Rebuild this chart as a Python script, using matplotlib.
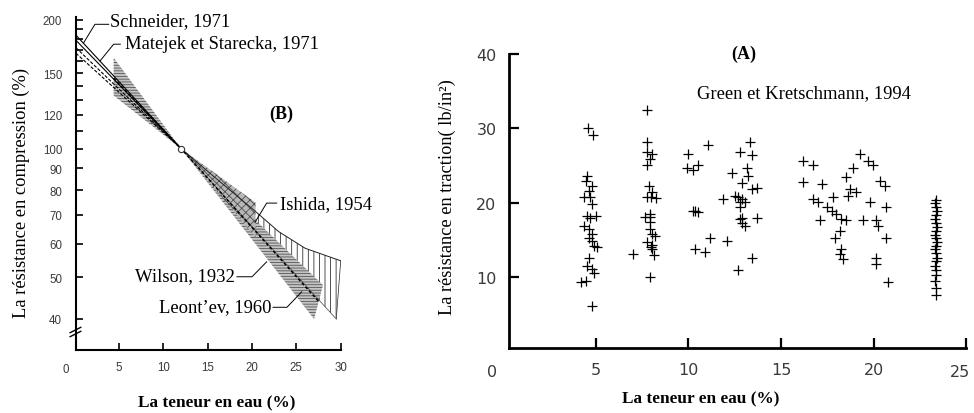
import numpy as np
import matplotlib
matplotlib.use("Agg")
import matplotlib.pyplot as plt
from matplotlib.ticker import FixedLocator, NullFormatter

plt.rcParams["hatch.linewidth"] = 0.6

# ---- panel B (compression, log scale) ----
pivot_x, pivot_y = 12, 100
schneider_x = [0.15, 12]
schneider_hi = [184, 100]
schneider_lo = [179, 100]
matejek_x = [0.15, 12]
matejek_hi = [172, 100]
matejek_lo = [167, 100]
band_left_x = [4.4, 12]
band_left_top = [163, 100]
band_left_bot = [133, 100]
wilson_x = [12, 20.4]
wilson_top = [100, 74.8]
wilson_bot = [100, 62]
leontev_x = [12, 28, 27]
leontev_y = [100, 48, 40]
ishida_x = [12, 16, 20.5, 23, 26, 30]
ishida_top = [100, 85, 71, 64, 58.5, 54.7]
ishida_bot_x = [29.5, 12]
ishida_bot = [40, 100]

b_yticks = [40, 50, 60, 70, 80, 90, 100, 120, 150, 200]
b_yminor = [110, 130, 140, 160, 170, 180, 190]
b_xticks = [5, 10, 15, 20, 25, 30]

# ---- panel A (traction, Green et Kretschmann 1994) ----
green_x = [
    # ~4.5 %
    4.59, 4.86, 4.50, 4.45, 4.80, 4.60, 4.35, 4.70, 4.80, 4.50, 4.70, 5.00,
    4.35, 4.60, 4.80, 4.60, 4.80, 4.90, 5.05, 4.60, 4.50, 4.80, 4.90, 4.45,
    4.20, 4.80,
    # ~8 %
    7.74, 7.74, 7.74, 8.05, 7.92, 7.74, 7.85, 8.05, 7.74, 8.00, 8.25, 7.92,
    7.65, 7.92, 7.92, 7.92, 8.05, 8.20, 7.74, 8.05, 7.95, 8.05, 8.15, 7.02,
    7.92,
    # ~10-12 %
    9.99, 11.07, 9.90, 10.26, 10.53, 10.26, 10.35, 10.53, 11.16, 12.06,
    10.35, 10.89,
    # ~13 %
    13.32, 12.78, 13.41, 12.33, 13.14, 13.23, 12.87, 13.41, 13.68, 12.51,
    12.69, 12.87, 11.88, 12.78, 13.05, 12.78, 12.78, 12.87, 13.68, 13.05,
    12.87, 13.41, 12.69,
    # ~16-18 %
    16.20, 16.74, 16.20, 17.20, 16.74, 17.00, 17.82, 17.46, 17.73, 17.10,
    18.00, 18.27, 18.54, 18.20, 17.90, 18.27, 18.20, 18.36,
    # ~19-20 %
    18.54, 18.90, 19.26, 19.71, 19.98, 18.72, 19.08, 18.63, 20.34, 20.60,
    19.80, 20.70, 19.44, 20.16, 20.25, 20.70, 20.16, 20.16, 20.78,
    # ~23 %
    23.40, 23.35, 23.40, 23.45, 23.40, 23.35, 23.40, 23.45, 23.40, 23.35,
    23.40, 23.45, 23.40, 23.35, 23.40, 23.45, 23.40, 23.35, 23.40, 23.40,
    23.35, 23.40, 23.40,
]
green_y = [
    30.0, 29.1, 23.6, 22.95, 22.3, 21.6, 20.7, 20.7, 19.8, 18.25, 18.0, 18.25,
    16.9, 16.45, 15.8, 15.3, 14.9, 14.2, 14.0, 12.6, 11.5, 11.1, 10.6, 9.5,
    9.3, 6.05,
    32.5, 28.1, 26.8, 26.5, 25.9, 25.0, 22.3, 21.4, 20.7, 20.8, 20.6, 18.5,
    18.1, 18.1, 17.35, 16.45, 15.8, 15.5, 14.7, 14.3, 14.0, 13.8, 12.9, 13.1,
    10.0,
    26.5, 27.75, 24.6, 24.4, 25.0, 18.9, 18.9, 18.7, 15.3, 14.9, 13.8, 13.4,
    28.1, 26.85, 26.4, 24.0, 24.6, 23.6, 22.6, 21.9, 22.0, 20.95, 20.7, 20.5,
    20.5, 20.05, 20.05, 19.4, 17.8, 17.2, 17.9, 16.9, 18.0, 12.5, 10.9,
    25.65, 25.0, 22.8, 22.5, 20.5, 20.05, 20.7, 19.4, 18.9, 17.6, 18.5, 17.8,
    17.7, 16.25, 15.2, 13.8, 13.1, 12.45,
    23.4, 24.6, 26.5, 25.65, 25.0, 21.8, 21.4, 20.95, 22.95, 22.3, 20.05,
    19.4, 17.7, 17.7, 16.9, 15.2, 12.5, 11.8, 9.3,
    20.4, 19.9, 19.4, 18.9, 18.3, 17.8, 17.2, 16.7, 16.2, 15.7, 15.2, 14.7,
    14.2, 13.7, 13.2, 12.6, 12.1, 11.5, 10.9, 10.2, 9.4, 8.5, 7.6,
]
a_xticks = [5, 10, 15, 20, 25]
a_yticks = [10, 20, 30, 40]

serif = "Liberation Serif"
sans_b = "Liberation Sans"
sans_a = "DejaVu Sans"
tick_col = "#3a3a3a"
note_size = 13.4

fig = plt.figure(figsize=(9.74, 4.14), dpi=100)

# ================= panel B =================
axb = fig.add_axes([0.0780, 0.1522, 0.2718, 0.8043])
axb.set_yscale("log")
axb.set_xlim(0.15, 30)
axb.set_ylim(33.86, 202.9)

# bands
axb.fill(ishida_x + ishida_bot_x, ishida_top + ishida_bot,
         facecolor="none", edgecolor="#333333", hatch="|||", linewidth=0)
axb.plot(ishida_x, ishida_top, color="#222222", lw=0.7)
axb.plot([ishida_x[-1], ishida_bot_x[0]], [ishida_top[-1], ishida_bot[0]],
         color="#222222", lw=0.5)
axb.plot(ishida_bot_x, ishida_bot, color="#444444", lw=0.5)
axb.fill(band_left_x + band_left_x[::-1], band_left_top + band_left_bot[::-1],
         facecolor="#c4c4c4", edgecolor="#555555", hatch="------", linewidth=0)
axb.fill(leontev_x, leontev_y, facecolor="#c4c4c4", edgecolor="#555555",
         hatch="------", linewidth=0)
axb.fill(wilson_x + wilson_x[::-1], wilson_top + wilson_bot[::-1],
         facecolor="#b8b8b8", edgecolor="#505050", hatch="xxxx", linewidth=0)

# lines from the top left
axb.plot(schneider_x, schneider_hi, color="black", lw=0.8)
axb.plot(schneider_x, schneider_lo, color="black", lw=0.8)
axb.plot(matejek_x, matejek_hi, color="black", lw=0.8, ls=(0, (3, 1.5)))
axb.plot(matejek_x, matejek_lo, color="black", lw=0.8, ls=(0, (3, 1.5)))
axb.plot([band_left_x[0], pivot_x, 27.5], [146, pivot_y, 44], color="black",
         lw=1.1, ls=(0, (2, 1.5)))
axb.plot([pivot_x], [pivot_y], marker="o", ms=4.5, mfc="white", mec="#333333",
         mew=0.8, zorder=5)

# axes style
for s in ["top", "right"]:
    axb.spines[s].set_visible(False)
for s in ["left", "bottom"]:
    axb.spines[s].set_linewidth(1.5)
axb.set_yticks(b_yticks)
axb.set_yticklabels([str(v) for v in b_yticks])
axb.yaxis.set_minor_locator(FixedLocator(b_yminor))
axb.yaxis.set_minor_formatter(NullFormatter())
axb.set_xticks(b_xticks)
axb.tick_params(axis="both", which="both", direction="in", width=1.2,
                colors="black", labelcolor=tick_col, labelsize=8.3)
axb.tick_params(axis="y", which="both", length=5, pad=10)
axb.tick_params(axis="x", length=5, pad=8)
for lab in axb.get_xticklabels() + axb.get_yticklabels():
    lab.set_family(sans_b)
axb.annotate("0", xy=(-1.0, 0), xycoords=("data", "axes fraction"),
             xytext=(0, -9.5), textcoords="offset points", ha="center",
             va="top", fontsize=8.3, family=sans_b, color=tick_col,
             annotation_clip=False)

# axis break
for dy in (0.0, 0.012):
    axb.plot([-0.022, 0.018], [0.040 + dy, 0.056 + dy], transform=axb.transAxes,
             color="black", lw=1.0, clip_on=False)

axb.set_ylabel("La résistance en compression (%)", family=serif, fontsize=13.3,
               va="center")
axb.yaxis.set_label_coords(-0.205, 0.474)
axb.set_xlabel("La teneur en eau (%)", family=serif, fontsize=12.4,
               fontweight="bold", va="center")
axb.xaxis.set_label_coords(0.532, -0.156)

# annotations
axb.text(4.0, 198.6, "Schneider, 1971", family=serif, fontsize=note_size,
         ha="left", va="center")
axb.plot([3.84, 2.29, 1.02], [195.1, 195.1, 176.7], color="black", lw=0.7,
         clip_on=False)
axb.text(5.7, 175.5, "Matejek et Starecka, 1971", family=serif,
         fontsize=note_size, ha="left", va="center")
axb.plot([5.15, 4.40, 2.86], [175.3, 175.3, 160.2], color="black", lw=0.7)
axb.text(23.3, 121, "(B)", family=serif, fontsize=13, fontweight="bold",
         ha="center", va="center")
axb.text(23.15, 74.2, "Ishida, 1954", family=serif, fontsize=note_size,
         ha="left", va="center")
axb.plot([22.78, 21.65, 20.34], [74.6, 74.6, 67.3], color="black", lw=0.7)
axb.text(18.1, 50.4, "Wilson, 1932", family=serif, fontsize=note_size,
         ha="right", va="center")
axb.plot([18.3, 20.0, 21.65], [50.2, 50.2, 54.4], color="black", lw=0.7)
axb.text(22.25, 42.7, "Leont\u2019ev, 1960", family=serif, fontsize=note_size,
         ha="right", va="center")
axb.plot([22.37, 23.94, 25.6], [42.6, 42.6, 46.3], color="black", lw=0.7)

# ================= panel A =================
axa = fig.add_axes([0.5226, 0.1570, 0.4692, 0.7101])
axa.scatter(green_x, green_y, marker="+", s=60, color="black", linewidths=0.9)
axa.set_xlim(0.3, 25.0)
axa.set_ylim(0.44, 40)
for s in ["top", "right"]:
    axa.spines[s].set_visible(False)
for s in ["left", "bottom"]:
    axa.spines[s].set_linewidth(2.0)
axa.set_xticks(a_xticks)
# last label drawn by hand a touch to the left so it stays inside the image
axa.set_xticklabels([str(v) for v in a_xticks[:-1]] + [""])
axa.set_yticks(a_yticks)
axa.tick_params(axis="both", direction="in", length=7, width=1.6,
                labelcolor=tick_col, labelsize=11.5)
axa.tick_params(axis="y", pad=9)
axa.tick_params(axis="x", pad=10)
for lab in axa.get_xticklabels() + axa.get_yticklabels():
    lab.set_family(sans_a)
axa.annotate("0", xy=(-0.64, 0), xycoords=("data", "axes fraction"),
             xytext=(0, -11.5), textcoords="offset points", ha="center",
             va="top", fontsize=11.5, family=sans_a, color=tick_col,
             annotation_clip=False)
axa.annotate(str(a_xticks[-1]), xy=(a_xticks[-1], 0),
             xycoords=("data", "axes fraction"), xytext=(-4, -11.5),
             textcoords="offset points", ha="center", va="top", fontsize=11.5,
             family=sans_a, color=tick_col, annotation_clip=False)

axa.set_ylabel("La résistance en traction( lb/in\u00b2)", family=serif,
               fontsize=13.2, va="center")
axa.yaxis.set_label_coords(-0.136, 0.517)
axa.set_xlabel("La teneur en eau (%)", family=serif, fontsize=12.4,
               fontweight="bold", va="center")
axa.xaxis.set_label_coords(0.42, -0.173)

axa.text(13.0, 40.1, "(A)", family=serif, fontsize=13, fontweight="bold",
         ha="center", va="center")
axa.text(10.44, 34.8, "Green et Kretschmann, 1994", family=serif,
         fontsize=note_size, ha="left", va="center")

fig.savefig("out.png", dpi=100)
